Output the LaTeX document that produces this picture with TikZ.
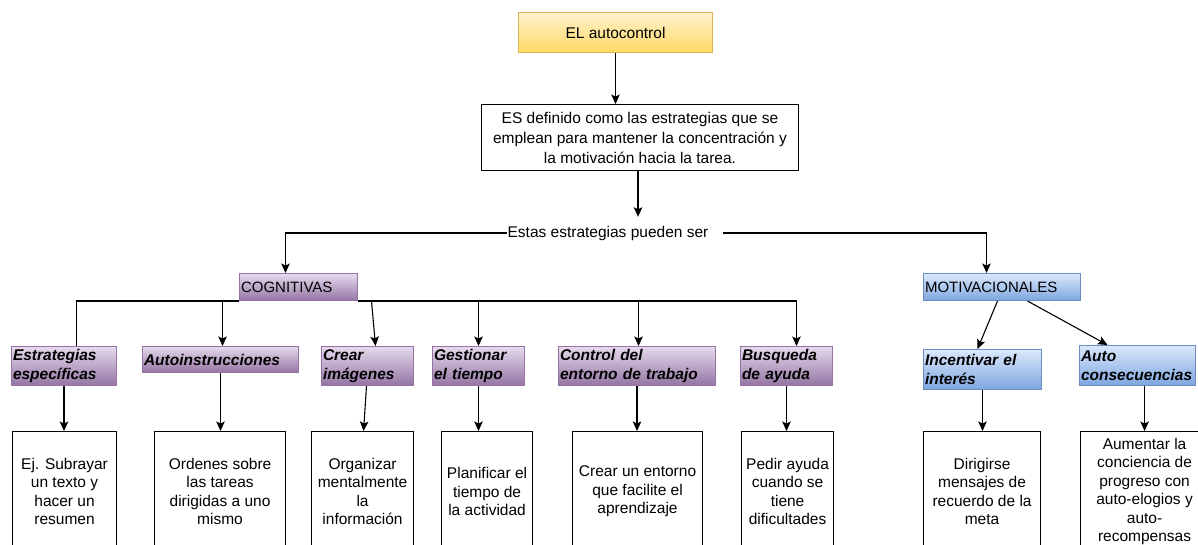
\documentclass[tikz,border=0pt]{standalone}
\usepackage{fontspec}
\setmainfont{Liberation Sans}
\usetikzlibrary{arrows.meta,calc}
\definecolor{yelT}{HTML}{FFF2CC}
\definecolor{yelB}{HTML}{FFD966}
\definecolor{yelD}{HTML}{D6B656}
\definecolor{purT}{HTML}{E6DAEC}
\definecolor{purB}{HTML}{9474A4}
\definecolor{purD}{HTML}{9673A6}
\definecolor{bluT}{HTML}{DAE8FC}
\definecolor{bluB}{HTML}{7EA6E0}
\definecolor{bluD}{HTML}{6C8EBF}
\begin{document}
\begin{tikzpicture}[x=1pt,y=-1pt,
  txt/.style={font=\fontsize{15.5}{18.5}\selectfont},
  wbox/.style={txt, draw=black, line width=1.1pt, fill=white, align=center, inner sep=0pt, anchor=north west},
  ybox/.style={txt, draw=yelD, line width=1pt, top color=yelT, bottom color=yelB, align=center, inner sep=0pt, anchor=north west},
  cbox/.style={font=\fontsize{15.5}{18.5}\selectfont\bfseries\itshape, line width=1pt, align=left, inner xsep=1.5pt, inner ysep=0pt, anchor=north west},
  pbox/.style={cbox, draw=purD, top color=purT, bottom color=purB},
  bbox/.style={cbox, draw=bluD, top color=bluT, bottom color=bluB},
  phead/.style={pbox, font=\fontsize{15}{18}\selectfont},
  bhead/.style={bbox, font=\fontsize{15}{18}\selectfont},
  arr/.style={-{Stealth[length=9.5pt,width=8.5pt,inset=2pt]}, line width=1.1pt},
  ln/.style={line width=1.1pt}
]
\useasboundingbox (0,0) rectangle (1198,544);
\clip (0,0) rectangle (1198,544);
\fill[white] (0,0) rectangle (1198,544);

% top
\node[ybox, minimum width=194pt, minimum height=40pt] (top) at (518,12) {EL autocontrol};
\node[wbox, line width=1pt, minimum width=317pt, minimum height=66pt, font=\fontsize{15.5}{20}\selectfont] (def) at (481,104)
  {ES definido como las estrategias que se\\emplean para mantener la concentración y\\la motivación hacia la tarea.};
\node[txt, inner xsep=0pt, minimum height=32pt, anchor=center] (estas) at (608,233) {Estas estrategias pueden ser};
\coordinate (estasR) at ([xshift=14pt]estas.east);

% level 1
\node[phead, text width=115pt, minimum height=27pt] (cog) at (239,273) {COGNITIVAS};
\node[bhead, text width=154pt, minimum height=27pt] (mot) at (923,273) {MOTIVACIONALES};

% level 2
\node[pbox, text width=102pt, minimum height=39pt] (est) at (11,346) {Estrategias\\específicas};
\node[pbox, text width=153pt, minimum height=26pt] (auto) at (142,346) {Autoinstrucciones};
\node[pbox, text width=89pt, minimum height=39pt] (crear) at (321,346) {Crear\\imágenes};
\node[pbox, text width=89pt, minimum height=39pt] (gest) at (432,346) {Gestionar\\el tiempo};
\node[pbox, text width=154pt, minimum height=39pt] (ctrl) at (558,346) {Control del\\entorno de trabajo};
\node[pbox, text width=89pt, minimum height=39pt] (busq) at (740,346) {Busqueda\\de ayuda};
\node[bbox, text width=115pt, minimum height=40pt] (inc) at (923,349) {Incentivar el\\interés};
\node[bbox, text width=113pt, minimum height=40pt] (acons) at (1079,345) {Auto\\consecuencias};

% level 3
\node[wbox, minimum width=104pt, minimum height=120pt] (ej) at (12,431) {Ej. Subrayar\\un texto y\\hacer un\\resumen};
\node[wbox, minimum width=131pt, minimum height=120pt] (ord) at (154,431) {Ordenes sobre\\las tareas\\dirigidas a uno\\mismo};
\node[wbox, minimum width=102pt, minimum height=120pt] (org) at (311,431) {Organizar\\mentalmente\\la\\información};
\node[wbox, minimum width=91pt, minimum height=120pt] (plan) at (441,431) {Planificar el\\tiempo de\\la actividad};
\node[wbox, minimum width=130pt, minimum height=120pt] (ent) at (572,431) {Crear un entorno\\que facilite el\\aprendizaje};
\node[wbox, minimum width=92pt, minimum height=120pt] (pedir) at (741,431) {Pedir ayuda\\cuando se\\tiene\\dificultades};
\node[wbox, minimum width=117pt, minimum height=120pt] (dir) at (923,431) {Dirigirse\\mensajes de\\recuerdo de la\\meta};
\node[wbox, minimum width=128pt, minimum height=120pt] (aum) at (1080,431) {Aumentar la\\conciencia de\\progreso con\\auto-elogios y\\auto-\\recompensas};

% connectors top
\draw[arr] (top.south) -- (top.south |- def.north);
\draw[arr] ([xshift=-2pt]def.south) -- ([xshift=-2pt]def.south |- estas.north);
\draw[arr] (estas.west) -| ([xshift=-13pt]cog.north);
\draw[arr] (estasR) -| ([xshift=-15.5pt]mot.north);

% cognitivas bar
\draw[ln] (cog.south west) -| ([xshift=12.5pt]est.north);
\draw[arr] (cog.south east) -| ([xshift=10pt]busq.north);
\draw[arr] ([xshift=2pt]auto.north |- cog.south) -- ([xshift=2pt]auto.north);
\draw[arr] ([xshift=4pt]crear.north |- cog.south) -- ([xshift=8pt]crear.north);
\draw[arr] (gest.north |- cog.south) -- (gest.north);
\draw[arr] ([xshift=1.5pt]ctrl.north |- cog.south) -- ([xshift=1.5pt]ctrl.north);

% motivacionales
\draw[arr] ([xshift=-4.5pt]mot.south) -- ([xshift=-5pt]inc.north);
\draw[arr] ([xshift=25.5pt]mot.south) -- ([xshift=-30pt]acons.north);

% level 2 -> 3
\draw[arr] (est.south) -- (est.south |- ej.north);
\draw[arr] (auto.south) -- (auto.south |- ord.north);
\draw[arr] ([xshift=-1pt]crear.south) -- ([xshift=1pt]org.north);
\draw[arr] (gest.south) -- (gest.south |- plan.north);
\draw[arr] (ctrl.south) -- (ctrl.south |- ent.north);
\draw[arr] (busq.south) -- (busq.south |- pedir.north);
\draw[arr] (inc.south) -- (inc.south |- dir.north);
\draw[arr] (aum.north |- acons.south) -- (aum.north);
\end{tikzpicture}
\end{document}
